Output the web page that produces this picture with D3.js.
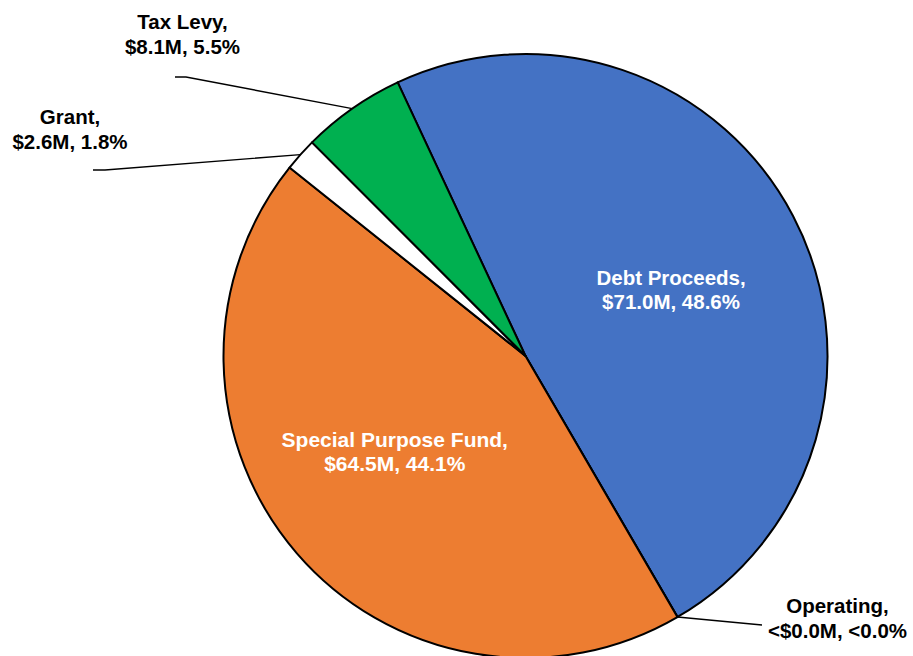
<!DOCTYPE html>
<html>
<head>
<meta charset="utf-8">
<script src="https://cdn.jsdelivr.net/npm/d3@7"></script>
<style>
  html, body { margin: 0; padding: 0; background: #ffffff; }
  svg { display: block; }
  text { font-family: "Liberation Sans", Arial, sans-serif; font-weight: bold; }
</style>
</head>
<body>
<svg id="chart" width="913" height="656"></svg>
<script>
// Funding sources, in drawing order (clockwise)
const categories = ["Debt Proceeds", "Operating", "Special Purpose Fund", "Grant", "Tax Levy"];
const values = [71.0, 0.01, 64.5, 2.6, 8.1];            // $M
const valueLabels = ["$71.0M", "<$0.0M", "$64.5M", "$2.6M", "$8.1M"];
const percentLabels = ["48.6%", "<0.0%", "44.1%", "1.8%", "5.5%"];
const colors = ["#4472C4", "#A5A5A5", "#ED7D31", "#FFFFFF", "#00B050"];

const width = 913, height = 656;
const cx = 525.5, cy = 356, radius = 302;
const rotation = -25.04 * Math.PI / 180;

const svg = d3.select("#chart");
const g = svg.append("g").attr("transform", `translate(${cx},${cy})`);

const data = categories.map((c, i) => ({
  name: c, value: values[i], valueLabel: valueLabels[i], pct: percentLabels[i], color: colors[i]
}));

const pie = d3.pie().sort(null).value(d => d.value)
  .startAngle(rotation).endAngle(rotation + 2 * Math.PI);
const arcs = pie(data);
const arc = d3.arc().innerRadius(0).outerRadius(radius);

g.selectAll("path.slice")
  .data(arcs)
  .join("path")
  .attr("class", "slice")
  .attr("d", arc)
  .attr("fill", d => d.data.color)
  .attr("stroke", "#000")
  .attr("stroke-width", 2)
  .attr("stroke-linejoin", "round");

// Label layout: inside labels sit along the slice's mid angle,
// outside labels hang off a leader line from the rim.
const layout = {
  "Debt Proceeds":        { inside: true,  r: 160, dAngle: 3.1, size: 20.5 },
  "Special Purpose Fund": { inside: true,  r: 162, dAngle: 4.6, size: 21 },
  "Tax Levy":    { inside: false, elbow: [186 - cx, 77 - cy], end: [175 - cx, 77 - cy], text: [182.5 - cx, 29 - cy] },
  "Grant":       { inside: false, elbow: [105 - cx, 170 - cy], end: [93 - cx, 170 - cy], text: [70 - cx, 124 - cy] },
  "Operating":   { inside: false, elbow: [762 - cx, 625 - cy], end: [762 - cx, 625 - cy], text: [837.5 - cx, 613 - cy] }
};

const fontSize = 20.5, lineGap = 24.5;

arcs.forEach(a => {
  const L = layout[a.data.name];
  const mid = (a.startAngle + a.endAngle) / 2;
  if (L.inside) {
    const ang = mid + L.dAngle * Math.PI / 180;
    const x = Math.sin(ang) * L.r;
    const y = -Math.cos(ang) * L.r;
    const t = g.append("text")
      .attr("text-anchor", "middle")
      .attr("fill", "#fff")
      .style("font-size", L.size + "px");
    t.append("tspan").attr("x", x).attr("y", y - 5).text(a.data.name + ",");
    t.append("tspan").attr("x", x).attr("y", y - 5 + lineGap).text(a.data.valueLabel + ", " + a.data.pct);
  } else {
    const rim = [Math.sin(mid) * radius, -Math.cos(mid) * radius];
    g.append("path")
      .attr("d", d3.line()([rim, L.elbow, L.end]))
      .attr("fill", "none")
      .attr("stroke", "#000")
      .attr("stroke-width", 1.4);
    const t = g.append("text")
      .attr("text-anchor", "middle")
      .attr("fill", "#000")
      .style("font-size", fontSize + "px");
    t.append("tspan").attr("x", L.text[0]).attr("y", L.text[1]).text(a.data.name + ",");
    t.append("tspan").attr("x", L.text[0]).attr("y", L.text[1] + lineGap).text(a.data.valueLabel + ", " + a.data.pct);
  }
});
</script>
</body>
</html>
